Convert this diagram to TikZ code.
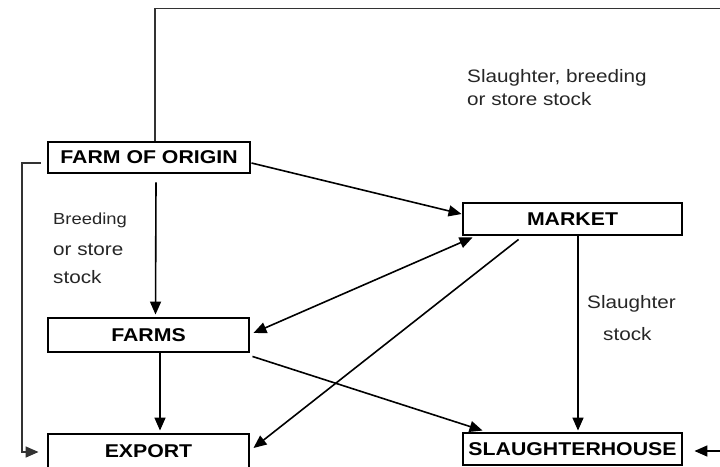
\documentclass[tikz,border=0pt]{standalone}
\usepackage{fontspec}
\setmainfont{Liberation Sans}[FakeStretch=1.15]
\usetikzlibrary{arrows.meta}
\begin{document}
\begin{tikzpicture}[x=1pt,y=-1pt,
  box/.style={draw,line width=2.9pt,inner sep=0pt,font=\bfseries\fontsize{18.5}{20}\selectfont},
  conn/.style={line width=1.6pt,line join=miter},
  arr/.style={conn,-{Triangle[length=13pt,width=11pt]}},
  darr/.style={conn,{Triangle[length=13pt,width=11pt]}-{Triangle[length=13pt,width=11pt]}},
  lbl/.style={anchor=base west,inner sep=0pt,text=black!85,font=\fontsize{18}{20}\selectfont},
  lbls/.style={anchor=base west,inner sep=0pt,text=black!85,font=\fontsize{16}{18}\selectfont}]
\useasboundingbox (0,0) rectangle (720,466);

\node[box,minimum width=202pt,minimum height=31pt] (origin) at (149,157.5) {FARM OF ORIGIN};
\node[box,minimum width=219pt,minimum height=32pt] (market) at (572.5,219) {MARKET};
\node[box,minimum width=201pt,minimum height=34pt] (farms) at (148.5,335) {FARMS};
\node[box,minimum width=201pt,minimum height=34pt] (export) at (148.5,451) {EXPORT};
\node[box,minimum width=219pt,minimum height=32pt] (slaughter) at (572.5,449) {SLAUGHTERHOUSE};

\coordinate (topR) at (720,8.5);
\coordinate (rightIn) at (720,451);
\coordinate (leftC) at (22,163);

% top loop
\draw[conn,black!80] ([xshift=6pt]origin.north) |- (topR);
\draw[arr] (rightIn) -- ([xshift=11pt,yshift=-2pt]slaughter.east);
% left loop
\draw[arr,black!80] ([xshift=-6pt,yshift=-5.5pt]origin.west) -- (leftC) |- ([xshift=-8pt,yshift=-1pt]export.west);

\draw[arr] ([yshift=-5.5pt]origin.east) -- ([yshift=5pt]market.west);
\draw[arr] ([xshift=7pt,yshift=-8pt]origin.south) -- ([xshift=7pt,yshift=2pt]farms.north);
\draw[darr] ([xshift=11pt,yshift=-1pt]market.south west) -- ([xshift=3pt,yshift=2pt]farms.east);
\draw[arr] ([xshift=57pt,yshift=-3pt]market.south west) -- ([xshift=3pt,yshift=3pt]export.east);
\draw[arr] ([xshift=5.5pt]market.south) -- ([xshift=5.5pt,yshift=1pt]slaughter.north);
\draw[arr] ([xshift=2pt,yshift=-3pt]farms.south east) -- ([xshift=21pt,yshift=1pt]slaughter.north west);
\draw[arr] ([xshift=11.5pt]farms.south) -- ([xshift=11.5pt,yshift=2pt]export.north);

\node[lbl] (l1) at (467,82) {Slaughter, breeding};
\node[lbl] (l2) at (467,105) {or store stock};
\node[lbls] (l3) at (53,224) {Breeding};
\node[lbl] (l4) at (53,255) {or store};
\node[lbl] (l5) at (53,283) {stock};
\node[lbl] (l6) at (587,308) {Slaughter};
\node[lbl] (l7) at (603,340) {stock};
\end{tikzpicture}
\end{document}
